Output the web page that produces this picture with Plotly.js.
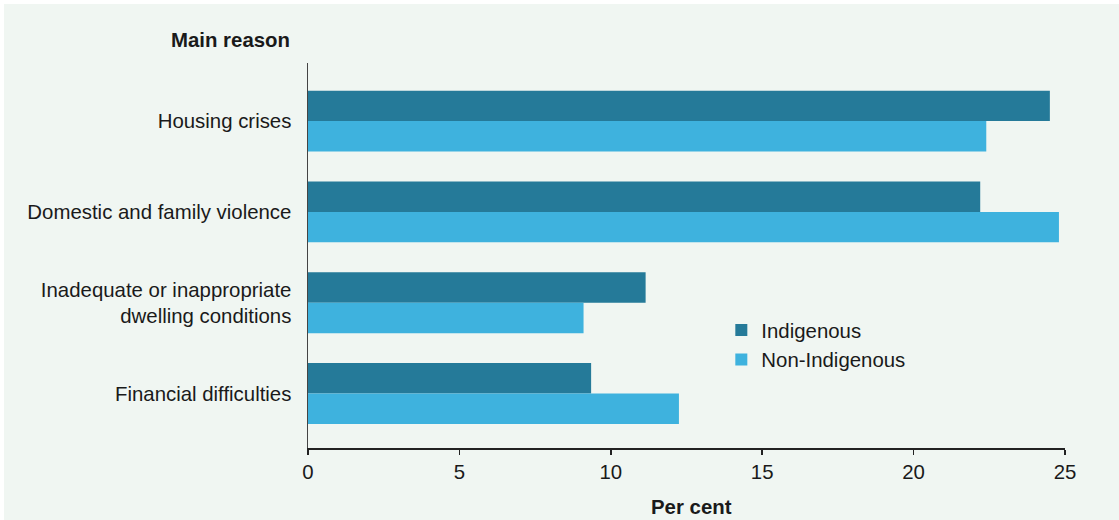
<!DOCTYPE html>
<html>
<head>
<meta charset="utf-8">
<script src="https://cdn.plot.ly/plotly-3.0.1.min.js"></script>
<style>
  html, body { margin: 0; padding: 0; background: #ffffff; }
  #chart { position: absolute; left: 4px; top: 4px; width: 1115px; height: 516px; }
</style>
</head>
<body>
<div id="chart"></div>
<script>
const categories = [
  "Housing crises",
  "Domestic and family violence",
  "Inadequate or inappropriate<br>dwelling conditions",
  "Financial difficulties"
];
const indigenous = [24.5, 22.2, 11.15, 9.35];
const nonIndigenous = [22.4, 24.8, 9.1, 12.25];
const xTicks = [0, 5, 10, 15, 20, 25];

const FONT = "Liberation Sans, Arial, Helvetica, sans-serif";
const TXT = "#1a1a1a";
const FS = 20.4;

const traces = [
  {
    type: "bar", orientation: "h", name: "Indigenous",
    y: categories, x: indigenous,
    marker: { color: "#257a99" }, hoverinfo: "x+name", legendgroup: "a"
  },
  {
    type: "bar", orientation: "h", name: "Non-Indigenous",
    y: categories, x: nonIndigenous,
    marker: { color: "#3eb2de" }, hoverinfo: "x+name", legendgroup: "b"
  }
];

const layout = {
  width: 1115, height: 516,
  margin: { l: 304, r: 54, t: 59, b: 72, pad: 0 },
  paper_bgcolor: "#f0f6f2",
  plot_bgcolor: "#f0f6f2",
  font: { family: FONT, size: FS, color: TXT },
  barmode: "group",
  bargap: 0.33,
  bargroupgap: 0,
  showlegend: true,
  legend: {
    x: 0.546, y: 0.358, xanchor: "left", yanchor: "top",
    bgcolor: "rgba(0,0,0,0)", font: { size: FS, color: TXT },
    traceorder: "normal", tracegroupgap: 8
  },
  xaxis: {
    range: [0, 25], tickvals: xTicks, ticktext: xTicks.map(String),
    showgrid: false, zeroline: false,
    showline: true, linecolor: "#222222", linewidth: 1.5,
    ticks: "outside", ticklen: 5, tickcolor: "#222222", tickwidth: 1.5,
    tickfont: { size: FS, color: TXT }, fixedrange: true
  },
  yaxis: {
    type: "category", categoryarray: categories, categoryorder: "array",
    range: [3.6, -0.64],
    showgrid: false, zeroline: false,
    showline: true, linecolor: "#444444", linewidth: 1.5,
    ticks: "", ticklabelstandoff: 11,
    tickfont: { size: FS, color: TXT }, fixedrange: true
  },
  annotations: [
    {
      text: "<b>Main reason</b>", xref: "paper", yref: "paper",
      x: -0.0211, y: 1.06, xanchor: "right", yanchor: "middle",
      showarrow: false, font: { size: FS, color: TXT }
    },
    {
      text: "<b>Per cent</b>", xref: "paper", yref: "paper",
      x: 0.506, y: -0.153, xanchor: "center", yanchor: "middle",
      showarrow: false, font: { size: FS, color: TXT }
    }
  ]
};

Plotly.newPlot("chart", traces, layout, { displayModeBar: false, staticPlot: true });
</script>
</body>
</html>
